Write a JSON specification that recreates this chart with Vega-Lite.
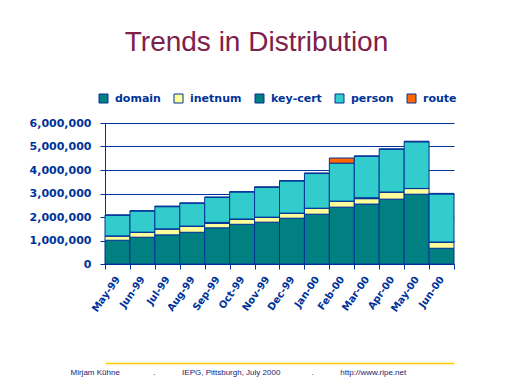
{
  "$schema": "https://vega.github.io/schema/vega-lite/v6.json",
  "width": 349,
  "height": 141,
  "autosize": "none",
  "padding": {"left": 105, "top": 123, "right": 58, "bottom": 120},
  "background": "white",
  "title": {
    "text": "Trends in Distribution",
    "anchor": "middle",
    "frame": "group",
    "dx": -23,
    "offset": 36,
    "font": "Liberation Sans",
    "fontSize": 28,
    "fontWeight": "normal",
    "color": "#80204A"
  },
  "config": {
    "view": {"stroke": null},
    "axis": {
      "labelFont": "DejaVu Sans",
      "labelFontWeight": "bold",
      "labelColor": "#003399",
      "domainColor": "#003399",
      "tickColor": "#003399",
      "gridColor": "#003399",
      "gridOpacity": 1,
      "domainWidth": 1,
      "tickWidth": 1
    }
  },
  "data": {
    "values": [
      {"month": "May-99", "series": "domain", "value": 1010000},
      {"month": "May-99", "series": "inetnum", "value": 180000},
      {"month": "May-99", "series": "key-cert", "value": 5000},
      {"month": "May-99", "series": "person", "value": 885000},
      {"month": "May-99", "series": "route", "value": 0},
      {"month": "Jun-99", "series": "domain", "value": 1140000},
      {"month": "Jun-99", "series": "inetnum", "value": 210000},
      {"month": "Jun-99", "series": "key-cert", "value": 5000},
      {"month": "Jun-99", "series": "person", "value": 905000},
      {"month": "Jun-99", "series": "route", "value": 0},
      {"month": "Jul-99", "series": "domain", "value": 1240000},
      {"month": "Jul-99", "series": "inetnum", "value": 250000},
      {"month": "Jul-99", "series": "key-cert", "value": 5000},
      {"month": "Jul-99", "series": "person", "value": 945000},
      {"month": "Jul-99", "series": "route", "value": 25000},
      {"month": "Aug-99", "series": "domain", "value": 1350000},
      {"month": "Aug-99", "series": "inetnum", "value": 260000},
      {"month": "Aug-99", "series": "key-cert", "value": 5000},
      {"month": "Aug-99", "series": "person", "value": 975000},
      {"month": "Aug-99", "series": "route", "value": 0},
      {"month": "Sep-99", "series": "domain", "value": 1540000},
      {"month": "Sep-99", "series": "inetnum", "value": 190000},
      {"month": "Sep-99", "series": "key-cert", "value": 40000},
      {"month": "Sep-99", "series": "person", "value": 1070000},
      {"month": "Sep-99", "series": "route", "value": 0},
      {"month": "Oct-99", "series": "domain", "value": 1690000},
      {"month": "Oct-99", "series": "inetnum", "value": 220000},
      {"month": "Oct-99", "series": "key-cert", "value": 5000},
      {"month": "Oct-99", "series": "person", "value": 1155000},
      {"month": "Oct-99", "series": "route", "value": 0},
      {"month": "Nov-99", "series": "domain", "value": 1780000},
      {"month": "Nov-99", "series": "inetnum", "value": 210000},
      {"month": "Nov-99", "series": "key-cert", "value": 5000},
      {"month": "Nov-99", "series": "person", "value": 1265000},
      {"month": "Nov-99", "series": "route", "value": 25000},
      {"month": "Dec-99", "series": "domain", "value": 1950000},
      {"month": "Dec-99", "series": "inetnum", "value": 210000},
      {"month": "Dec-99", "series": "key-cert", "value": 5000},
      {"month": "Dec-99", "series": "person", "value": 1375000},
      {"month": "Dec-99", "series": "route", "value": 0},
      {"month": "Jan-00", "series": "domain", "value": 2120000},
      {"month": "Jan-00", "series": "inetnum", "value": 250000},
      {"month": "Jan-00", "series": "key-cert", "value": 5000},
      {"month": "Jan-00", "series": "person", "value": 1475000},
      {"month": "Jan-00", "series": "route", "value": 25000},
      {"month": "Feb-00", "series": "domain", "value": 2420000},
      {"month": "Feb-00", "series": "inetnum", "value": 250000},
      {"month": "Feb-00", "series": "key-cert", "value": 5000},
      {"month": "Feb-00", "series": "person", "value": 1615000},
      {"month": "Feb-00", "series": "route", "value": 220000},
      {"month": "Mar-00", "series": "domain", "value": 2550000},
      {"month": "Mar-00", "series": "inetnum", "value": 230000},
      {"month": "Mar-00", "series": "key-cert", "value": 40000},
      {"month": "Mar-00", "series": "person", "value": 1770000},
      {"month": "Mar-00", "series": "route", "value": 0},
      {"month": "Apr-00", "series": "domain", "value": 2760000},
      {"month": "Apr-00", "series": "inetnum", "value": 300000},
      {"month": "Apr-00", "series": "key-cert", "value": 5000},
      {"month": "Apr-00", "series": "person", "value": 1825000},
      {"month": "Apr-00", "series": "route", "value": 0},
      {"month": "May-00", "series": "domain", "value": 2970000},
      {"month": "May-00", "series": "inetnum", "value": 240000},
      {"month": "May-00", "series": "key-cert", "value": 5000},
      {"month": "May-00", "series": "person", "value": 1985000},
      {"month": "May-00", "series": "route", "value": 25000},
      {"month": "Jun-00", "series": "domain", "value": 670000},
      {"month": "Jun-00", "series": "inetnum", "value": 260000},
      {"month": "Jun-00", "series": "key-cert", "value": 5000},
      {"month": "Jun-00", "series": "person", "value": 2045000},
      {"month": "Jun-00", "series": "route", "value": 25000}
    ]
  },
  "layer": [
    {
      "mark": {"type": "bar", "stroke": "#003399", "strokeWidth": 1},
      "encoding": {
        "x": {
          "field": "month",
          "type": "nominal",
          "sort": null,
          "scale": {"paddingInner": 0, "paddingOuter": 0},
          "axis": {
            "title": null,
            "labelAngle": -55,
            "labelAlign": "right",
            "labelBaseline": "middle",
            "labelFontSize": 10,
            "labelPadding": 8,
            "tickBand": "extent",
            "tickSize": 5,
            "grid": false
          }
        },
        "y": {
          "field": "value",
          "type": "quantitative",
          "stack": "zero",
          "scale": {"domain": [0, 6000000], "nice": false},
          "axis": {
            "title": null,
            "values": [0, 1000000, 2000000, 3000000, 4000000, 5000000, 6000000],
            "format": ",d",
            "labelFontSize": 11,
            "labelPadding": 9,
            "tickSize": 5,
            "grid": true
          }
        },
        "color": {
          "field": "series",
          "type": "nominal",
          "scale": {
            "domain": ["domain", "inetnum", "key-cert", "person", "route"],
            "range": ["#008080", "#FFFF99", "#008080", "#33CCCC", "#FF6600"]
          },
          "legend": {
            "orient": "none",
            "legendX": -7,
            "legendY": -30,
            "direction": "horizontal",
            "title": null,
            "symbolType": "square",
            "symbolSize": 81,
            "symbolStrokeColor": "#003399",
            "symbolStrokeWidth": 1,
            "symbolOpacity": 1,
            "labelFont": "DejaVu Sans",
            "labelFontWeight": "bold",
            "labelFontSize": 11,
            "labelColor": "#003399",
            "labelOffset": 6,
            "columnPadding": 11
          }
        },
        "order": {"field": "series", "sort": "ascending"}
      }
    },
    {
      "mark": {"type": "point", "opacity": 0},
      "encoding": {
        "x": {
          "field": "month",
          "type": "nominal",
          "sort": null,
          "axis": {
            "orient": "bottom",
            "offset": 99,
            "domainColor": "#FFCC00",
            "domainWidth": 1.5,
            "labels": false,
            "ticks": false,
            "grid": false,
            "title": "Mirjam Kühne\u00a0\u00a0\u00a0\u00a0\u00a0\u00a0\u00a0\u00a0\u00a0\u00a0\u00a0\u00a0\u00a0\u00a0\u00a0.\u00a0\u00a0\u00a0\u00a0\u00a0\u00a0\u00a0\u00a0\u00a0\u00a0\u00a0\u00a0IEPG, Pittsburgh, July 2000\u00a0\u00a0\u00a0\u00a0\u00a0\u00a0\u00a0\u00a0\u00a0\u00a0\u00a0\u00a0\u00a0\u00a0.\u00a0\u00a0\u00a0\u00a0\u00a0\u00a0\u00a0\u00a0\u00a0\u00a0\u00a0\u00a0http://www.ripe.net",
            "titleFont": "Liberation Sans",
            "titleFontSize": 8,
            "titleFontWeight": "normal",
            "titleColor": "#1A1A6E",
            "titlePadding": 5,
            "titleAnchor": "start",
            "titleAlign": "left",
            "titleX": -35
          }
        }
      }
    }
  ],
  "resolve": {"axis": {"x": "independent"}}
}
